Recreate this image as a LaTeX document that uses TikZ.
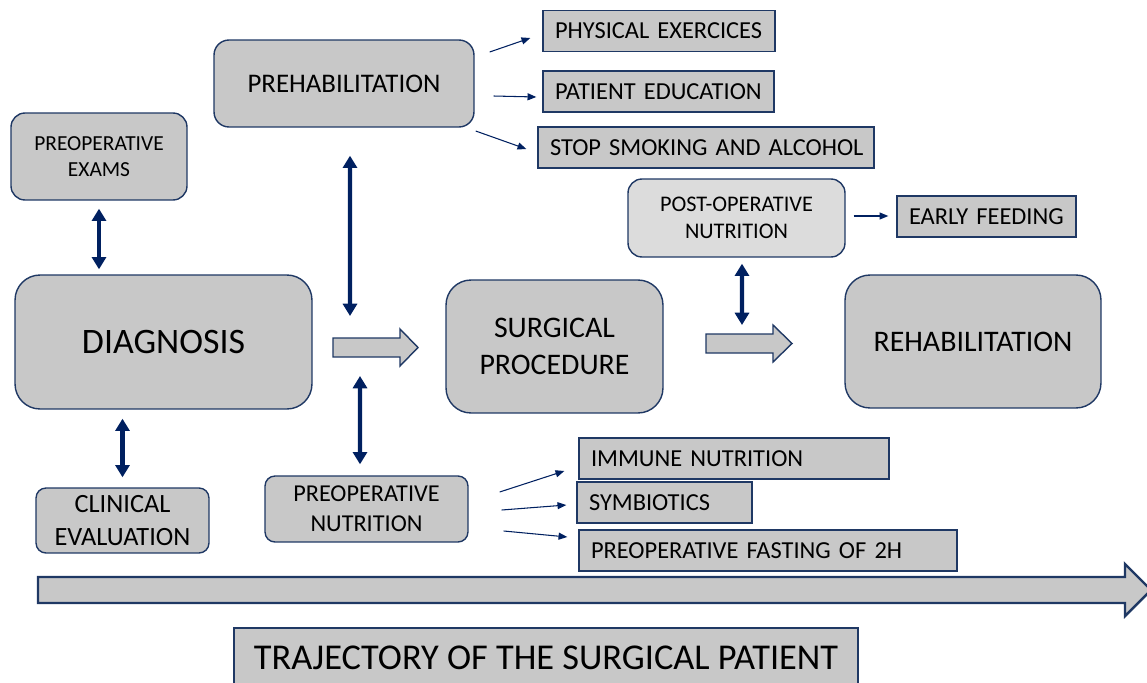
\documentclass[tikz,border=0pt]{standalone}
\usepackage{fontspec}
\setmainfont{Carlito}
\usetikzlibrary{%
  calc,arrows.meta}
\definecolor{boxgray}{HTML}{C8C8C8}
\definecolor{postgray}{HTML}{DCDCDC}
\definecolor{rim}{HTML}{1F3864}
\definecolor{navy}{HTML}{002060}
\newcommand\fsz[1]{\fontsize{#1}{\the\dimexpr#1*122/100\relax}\selectfont}
\tikzset {>=Triangle,
  stage/.style={draw=rim,fill=boxgray,line width=.8pt,
    rounded corners=#1,align=center,inner sep=0pt},
  item/.style={draw=rim,fill=boxgray,line width=.8pt,
    inner xsep=.24cm,inner ysep=0pt,minimum height=.82cm,
    align=left,text width=#1,font=\fsz{13.9pt}},
  dbl/.style={<->,draw=navy,line width=2.3pt,
    arrows={Triangle[length=7pt,width=8pt]-Triangle[length=7pt,width=8pt]}},
  thin/.style={->,draw=navy,line width=.6pt,
    arrows={-Triangle[length=5pt,width=4pt]}},
  flow/.style={draw=rim,fill=boxgray,line width=.8pt}}

\begin{document}
\begin{tikzpicture}[x=.02cm,y=-.02cm]
\useasboundingbox (0,0) rectangle (1147,683);
% main stages
\node[stage=.3cm,minimum width=5.2cm,minimum height=1.74cm,
  font=\fsz{15.3pt}] (prehab) at (344,83.5) {PREHABILITATION};
\node[stage=.28cm,minimum width=3.52cm,minimum height=1.74cm,
  font=\fsz{12.2pt}] (exams) at (99,156.5) {PREOPERATIVE\\EXAMS};
\node[stage=.5cm,minimum width=5.94cm,minimum height=2.68cm,
  font=\fsz{20.4pt}] (diag) at (163.5,342) {DIAGNOSIS};
\node[stage=.2cm,minimum width=3.46cm,minimum height=1.3cm,
  font=\fsz{15pt}] (clin) at (122.5,520.5) {CLINICAL\\EVALUATION};
\node[stage=.2cm,minimum width=4.06cm,minimum height=1.32cm,
  font=\fsz{13.8pt}] (prenut) at (366.5,509) {PREOPERATIVE\\NUTRITION};
\node[stage=.5cm,minimum width=4.34cm,minimum height=2.66cm,
  font=\fsz{17pt}] (surg) at (554.5,346.5) {SURGICAL\\PROCEDURE};
\node[stage=.28cm,fill=postgray,minimum width=4.34cm,minimum height=1.56cm,
  font=\fsz{12.7pt}] (postop) at (736.5,218) {POST-OPERATIVE\\NUTRITION};
\node[stage=.5cm,minimum width=5.12cm,minimum height=2.66cm,
  font=\fsz{17pt}] (rehab) at (973,341.5) {REHABILITATION};

% side items
\node[item=4.16cm] (phys) at (659,31) {PHYSICAL EXERCICES};
\node[item=4.14cm] (educ) at (658.5,91.5) {PATIENT EDUCATION};
\node[item=6.24cm] (stop) at (706,147.5) {\mbox{STOP SMOKING AND ALCOHOL}};
\node[item=3.1cm] (early) at (986.5,216.5) {EARLY FEEDING};
\node[item=5.72cm] (immune) at (734,458.5) {IMMUNE NUTRITION};
\node[item=3.02cm] (symb) at (664.5,502.5) {SYMBIOTICS};
\node[item=7.08cm] (fast) at (768,550.5) {\mbox{PREOPERATIVE FASTING OF 2H}};

% block arrows
\coordinate (go1) at (333,347.5);
\coordinate (go2) at (706,343.5);
\draw[flow] (go1) ++(0,-9.5) -- ++(67,0) -- ++(0,-9) -- ++(18,18.5)
  -- ++(-18,18.5) -- ++(0,-9) -- ++(-67,0) -- cycle;
\draw[flow] (go2) ++(0,-9.5) -- ++(67,0) -- ++(0,-9) -- ++(19,18.5)
  -- ++(-19,18.5) -- ++(0,-9) -- ++(-67,0) -- cycle;

% double arrows
\coordinate (up1) at (350,316);
\coordinate (dn1) at (360,376);
\coordinate (up2) at (742,325);
\draw[dbl,shorten <=.16cm,shorten >=.1cm]
  (exams.south) -- (exams.south |- diag.north);
\draw[dbl,shorten <=.18cm,shorten >=.2cm]
  (clin.north |- diag.south) -- (clin.north);
\draw[dbl,shorten <=.56cm] ([xshift=.12cm]prehab.south) -- (up1);
\draw[dbl,shorten >=.22cm] (dn1) -- ([xshift=-.13cm]prenut.north);
\draw[dbl,shorten <=.12cm] ([xshift=.11cm]postop.south) -- (up2);

% thin arrows
\draw[thin] ($(prehab.east)+(15,-31.5)$) -- ($(phys.west)+(-12,7)$);
\draw[thin] ($(prehab.east)+(19,12.5)$) -- ($(educ.west)+(-6,5.5)$);
\draw[thin] ($(prehab.east)+(1,47.5)$) -- ($(stop.west)+(-11,1.5)$);
\draw[thin] ($(postop.east)+(8,-2)$) -- ($(early.west)+(-8,-.5)$);
\draw[thin] ($(prenut.east)+(31,-17)$) -- ($(immune.west)+(-14,12.5)$);
\draw[thin] ($(prenut.east)+(33,1)$) -- ($(symb.west)+(-10,2.5)$);
\draw[thin] ($(prenut.east)+(35,22)$) -- ($(fast.west)+(-11,-13.5)$);

% trajectory
\draw[flow,line width=1.4pt] (38,577) -- (1125,577) -- (1125,564) -- (1151,590)
  -- (1125,616) -- (1125,603) -- (38,603) -- cycle;
\node[draw=rim,fill=boxgray,line width=.8pt,minimum width=12.48cm,
  minimum height=1.2cm,inner sep=0pt,font=\fsz{20.7pt}] (traj) at (546,658)
  {TRAJECTORY OF THE SURGICAL PATIENT};
\end{tikzpicture}
\end{document}
